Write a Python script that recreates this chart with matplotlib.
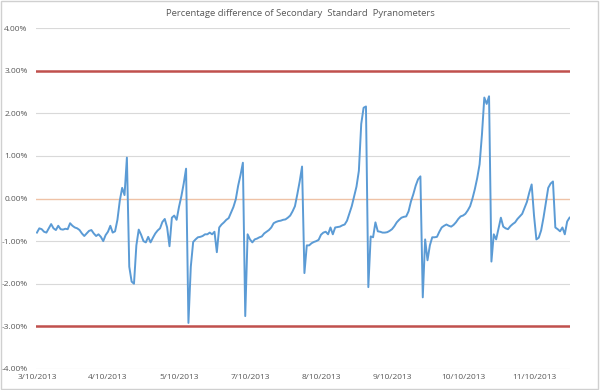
import matplotlib
matplotlib.use("Agg")
import matplotlib.pyplot as plt
from matplotlib.patches import Rectangle
from matplotlib.ticker import FuncFormatter

title = "Percentage difference of Secondary  Standard  Pyranometers"

tick_labels = ["3/10/2013", "4/10/2013", "5/10/2013", "7/10/2013",
               "8/10/2013", "9/10/2013", "10/10/2013", "11/10/2013"]
label_step = 30

# percentage difference (%), one value per category
diff_pct = [
    -0.80, -0.70, -0.72, -0.78, -0.80, -0.70, -0.60, -0.70, -0.74, -0.64,
    -0.72, -0.73, -0.71, -0.72, -0.58, -0.64, -0.68, -0.70, -0.74, -0.82,
    -0.88, -0.82, -0.76, -0.74, -0.82, -0.88, -0.84, -0.90, -1.00, -0.86,
    -0.78, -0.64, -0.80, -0.77, -0.50, -0.05, 0.25, 0.08, 0.96, -1.60,
    -1.95, -2.00, -1.10, -0.73, -0.85, -1.00, -1.03, -0.90, -1.03, -0.92,
    -0.82, -0.75, -0.70, -0.55, -0.48, -0.68, -1.12, -0.45, -0.40, -0.50,
    -0.20, 0.05, 0.35, 0.70, -2.92, -1.60, -1.02, -0.96, -0.91, -0.90,
    -0.88, -0.84, -0.84, -0.80, -0.84, -0.78, -1.26, -0.68, -0.61, -0.56,
    -0.50, -0.46, -0.33, -0.20, -0.02, 0.30, 0.55, 0.84, -2.76, -0.84,
    -0.96, -1.03, -0.96, -0.94, -0.91, -0.89, -0.82, -0.78, -0.74, -0.68,
    -0.58, -0.55, -0.53, -0.52, -0.50, -0.49, -0.45, -0.40, -0.30, -0.18,
    0.10, 0.40, 0.75, -1.75, -1.10, -1.10, -1.05, -1.02, -1.00, -0.97,
    -0.85, -0.80, -0.78, -0.84, -0.68, -0.84, -0.68, -0.67, -0.66, -0.63,
    -0.61, -0.52, -0.35, -0.18, 0.05, 0.28, 0.65, 1.75, 2.13, 2.16,
    -2.08, -0.89, -0.91, -0.56, -0.77, -0.78, -0.80, -0.80, -0.79, -0.76,
    -0.72, -0.65, -0.56, -0.50, -0.45, -0.43, -0.42, -0.30, -0.07, 0.10,
    0.30, 0.45, 0.52, -2.32, -0.96, -1.45, -1.10, -0.91, -0.91, -0.90,
    -0.78, -0.68, -0.64, -0.61, -0.64, -0.66, -0.62, -0.56, -0.48, -0.42,
    -0.40, -0.36, -0.28, -0.18, 0.00, 0.22, 0.48, 0.80, 1.50, 2.37,
    2.22, 2.40, -1.48, -0.84, -0.96, -0.70, -0.45, -0.66, -0.70, -0.72,
    -0.65, -0.60, -0.56, -0.48, -0.42, -0.36, -0.22, -0.08, 0.14, 0.33,
    -0.40, -0.96, -0.92, -0.75, -0.45, -0.10, 0.25, 0.35, 0.40, -0.68,
    -0.72, -0.77, -0.68, -0.84, -0.54, -0.45,
]

limit_upper = 3.0
limit_lower = -3.0
y_ticks = [-4, -3, -2, -1, 0, 1, 2, 3, 4]

plt.rcParams['font.family'] = ['Open Sans', 'DejaVu Sans']

fig = plt.figure(figsize=(6.0, 3.9), dpi=100)
fig.patches.append(Rectangle((0.002, 0.003), 0.994, 0.994, transform=fig.transFigure,
                             fill=False, edgecolor='#d0d0d0', linewidth=1.0))
ax = fig.add_axes([0.06, 0.054, 0.89, 0.874])

x = list(range(len(diff_pct)))

for t in y_ticks:
    if t in (0, 3, -3):
        continue
    ax.axhline(t, color='#d9d9d9', linewidth=0.8, zorder=1)
ax.axhline(0, color='#efc2a6', linewidth=1.0, zorder=1)
ax.axhline(limit_upper, color='#c0504d', linewidth=1.8, zorder=2)
ax.axhline(limit_lower, color='#c0504d', linewidth=1.8, zorder=2)

ax.plot(x, diff_pct, color='#5b9bd5', linewidth=1.4, zorder=3)

ax.set_ylim(-4, 4)
ax.set_xlim(-0.4, len(diff_pct) - 0.8)
ax.set_yticks(y_ticks)
ax.yaxis.set_major_formatter(FuncFormatter(lambda v, p: f"{v:.2f}%"))
ax.set_xticks([i * label_step for i in range(len(tick_labels))])
ax.set_xticklabels(tick_labels)
ax.tick_params(axis='both', length=0, labelsize=6, labelcolor='#595959')
ax.tick_params(axis='y', pad=6)
ax.tick_params(axis='x', pad=4)
for s in ax.spines.values():
    s.set_visible(False)

fig.text(0.5, 0.965, title, ha='center', va='center', fontsize=6.8, color='#595959')

fig.savefig('out.png', dpi=100, facecolor='white')
